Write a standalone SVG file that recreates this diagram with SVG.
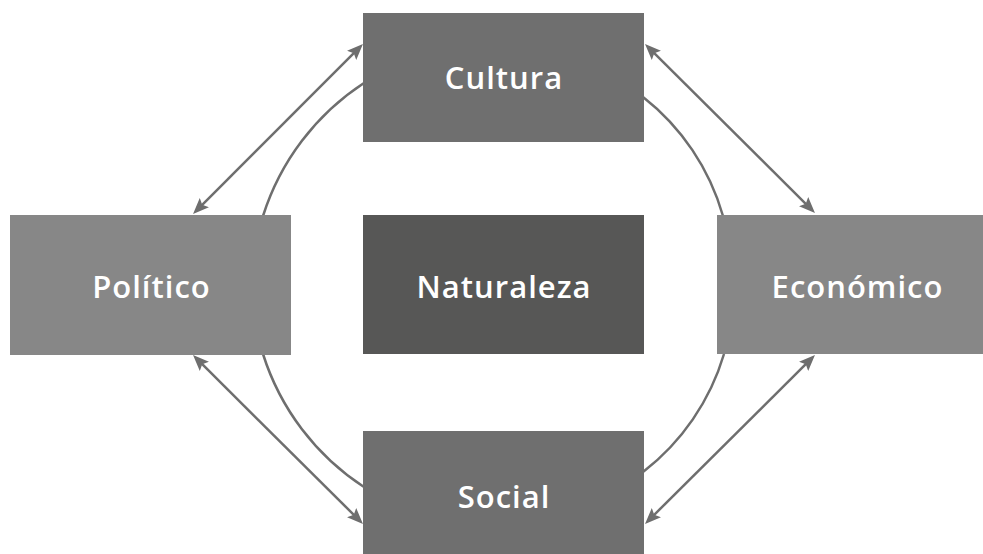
<svg xmlns="http://www.w3.org/2000/svg" width="983" height="554" viewBox="0 0 983 554">
<style>
.lbl{font-family:"Open Sans",Lato,"Liberation Sans",sans-serif;font-weight:600;font-size:31px;letter-spacing:1px;fill:#ffffff;text-anchor:middle}
.c{fill:none;stroke:#6e6e6e;stroke-width:2.5}
.mid{fill:#6f6f6f}
.side{fill:#878787}
.core{fill:#575756}
</style>
<defs>
<marker id="ah" viewBox="0 0 16 13" markerWidth="16" markerHeight="13" refX="8" refY="6.5" orient="auto-start-reverse" markerUnits="userSpaceOnUse">
<path d="M0,0 L16,6.5 L0,13 L3,6.5 Z" fill="#6e6e6e"/>
</marker>
</defs>
<rect width="983" height="554" fill="#ffffff"/>
<g id="connectors">
<line class="c" x1="198.7" y1="208.3" x2="357.3" y2="49.7" marker-start="url(#ah)" marker-end="url(#ah)"/>
<line class="c" x1="650.7" y1="49.7" x2="809.3" y2="207.3" marker-start="url(#ah)" marker-end="url(#ah)"/>
<line class="c" x1="198.7" y1="360.7" x2="357.3" y2="518.3" marker-start="url(#ah)" marker-end="url(#ah)"/>
<line class="c" x1="809.3" y1="360.7" x2="650.7" y2="518.3" marker-start="url(#ah)" marker-end="url(#ah)"/>
<path class="c" d="M263,216 A248,248 0 0 1 364,83"/>
<path class="c" d="M643,97 A232,232 0 0 1 723,216"/>
<path class="c" d="M364,487 A248,248 0 0 1 263,354"/>
<path class="c" d="M724,354 A232,232 0 0 1 643,472"/>
</g>
<g id="cultura">
<rect class="mid" x="363" y="13" width="281" height="129"/>
<text class="lbl" x="504" y="89">Cultura</text>
</g>
<g id="politico">
<rect class="side" x="10" y="215" width="281" height="140"/>
<text class="lbl" x="151.5" y="298">Político</text>
</g>
<g id="naturaleza">
<rect class="core" x="363" y="215" width="281" height="139"/>
<text class="lbl" x="504" y="298">Naturaleza</text>
</g>
<g id="economico">
<rect class="side" x="717" y="215" width="281" height="139"/>
<text class="lbl" x="857.5" y="298">Económico</text>
</g>
<g id="social">
<rect class="mid" x="363" y="431" width="281" height="130"/>
<text class="lbl" x="504" y="508">Social</text>
</g>
</svg>
